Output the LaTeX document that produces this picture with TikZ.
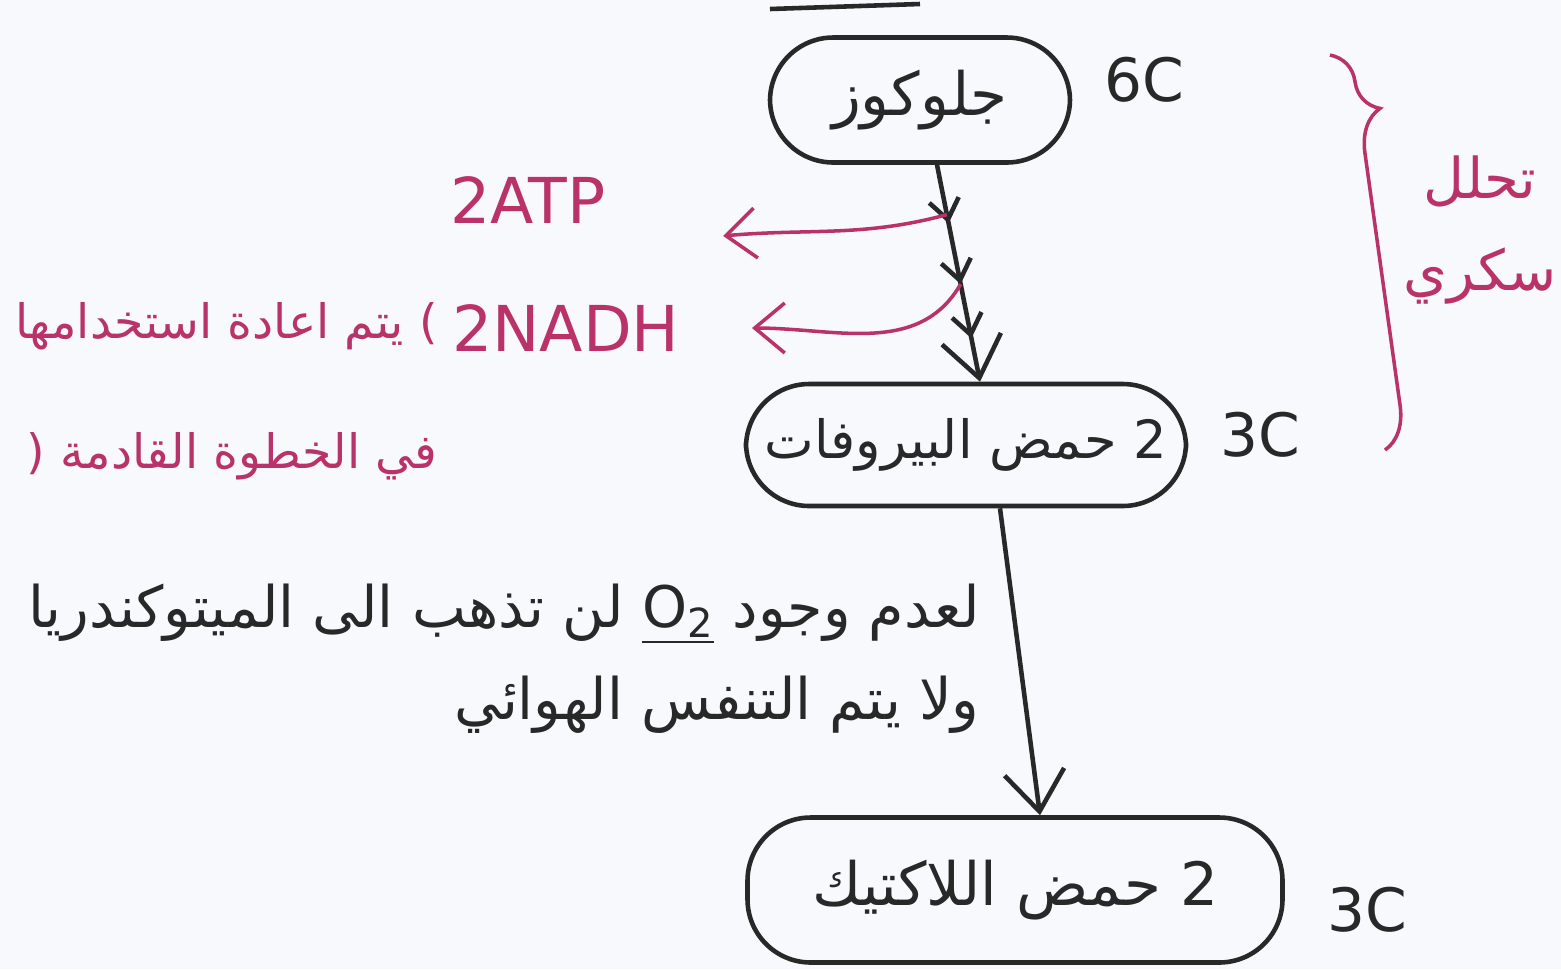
\documentclass[tikz,border=0pt]{standalone}
\usepackage{fontspec}
\setmainfont{DejaVu Sans}
\newfontfamily\arabicfont[Script=Arabic]{DejaVu Sans}
\TeXXeTstate=1
\usetikzlibrary{arrows.meta,decorations.markings,decorations.pathreplacing,positioning}
\definecolor{ink}{RGB}{40,40,40}
\definecolor{penpink}{RGB}{185,50,105}
\definecolor{paper}{RGB}{247,249,252}

\begin{document}
\begin{tikzpicture}[
stage/.style={draw=ink,line width=1.3pt,rounded corners=18pt,text=ink,inner sep=2pt,
  font=\fontsize{17}{20}\selectfont\arabicfont},
carbon/.style={text=ink,font=\fontsize{17}{20}\selectfont},
pinktext/.style={text=penpink,font=\fontsize{18}{22}\selectfont},
pinkarabic/.style={text=penpink,font=\fontsize{16}{26}\selectfont\arabicfont},
flow/.style={ink,line width=1.3pt,-{Straight Barb[length=4mm,width=6mm]}},
side/.style={penpink,line width=1pt,-{Straight Barb[length=3mm,width=5mm]}},
tick/.style={postaction={decorate},decoration={markings,
  mark=at position 0.27 with {\arrow{Straight Barb[length=2mm,width=3mm]}},
  mark=at position 0.55 with {\arrow{Straight Barb[length=2mm,width=3mm]}},
  mark=at position 0.8 with {\arrow{Straight Barb[length=2mm,width=3mm]}}}}]
    % Paper
    \fill[paper] (0,0) rectangle (15.61,-9.69);
    \useasboundingbox (0,0) rectangle (15.61,-9.69);
    \draw[ink,line width=1.3pt] (7.7,-0.09) -- (9.2,-0.04);

    % Stages
    \node (glucose) [stage,minimum width=3.0cm,minimum height=1.25cm] at (9.2,-1.0)
        {\beginR جلوكوز\endR};
    \node (pyruvate) [stage,minimum width=4.4cm,minimum height=1.22cm,
        font=\fontsize{15}{18}\selectfont\arabicfont] at (9.66,-4.45)
        {\beginR 2 حمض البيروفات\endR};
    \node (lactic) [stage,minimum width=5.35cm,minimum height=1.45cm] at (10.15,-8.9)
        {\beginR 2 حمض اللاكتيك\endR};

    \node (c6) [carbon,right=0.2cm of glucose.east,yshift=0.2cm] {6C};
    \node (c3a) [carbon,right=0.2cm of pyruvate.east,yshift=0.1cm] {3C};
    \node (c3b) [carbon,right=0.3cm of lactic.east,yshift=-0.2cm] {3C};

    % Arrows
    \draw[flow,tick] ([xshift=1.7mm]glucose.south) -- ([xshift=1.4mm]pyruvate.north)
        coordinate[pos=0.23] (b1) coordinate[pos=0.55] (b2);
    \draw[flow] ([xshift=3.4mm]pyruvate.south) -- ([xshift=2.5mm]lactic.north);

    % Products
    \node (atp) [pinktext] at (5.28,-2.0) {2ATP};
    \node (nadh) [pinktext] at (5.66,-3.28) {2NADH};
    \node (reuse) [pinkarabic,align=right,anchor=north east,
        font=\fontsize{13.5}{37}\selectfont\arabicfont] at (4.5,-2.9)
        {\beginR) يتم اعادة استخدامها\endR\\\beginR في الخطوة القادمة (\endR};
    \draw[side] (b1) to[out=195,in=5] ([xshift=10.5mm]atp.south east);
    \draw[side] (b2) to[out=240,in=0] ([xshift=6mm]nadh.east);

    % Glycolysis brace
    \draw[penpink,line width=1pt,decorate,decoration={brace,amplitude=12pt,aspect=0.15}]
        (13.3,-0.55) -- (13.85,-4.5);
    \node (glyco) [pinkarabic,align=center] at (14.8,-2.3)
        {\beginR تحلل\endR\\\beginR سكري\endR};

    % No oxygen
    \node (note) [text=ink,font=\fontsize{16.3}{26}\selectfont\arabicfont,align=right,anchor=north east]
        at (9.92,-5.72)
        {\beginR لعدم وجود \beginL\underline{O\textsubscript{2}}\endL{} لن تذهب الى الميتوكندريا\endR\\
         \beginR ولا يتم التنفس الهوائي\endR};
\end{tikzpicture}
\end{document}
